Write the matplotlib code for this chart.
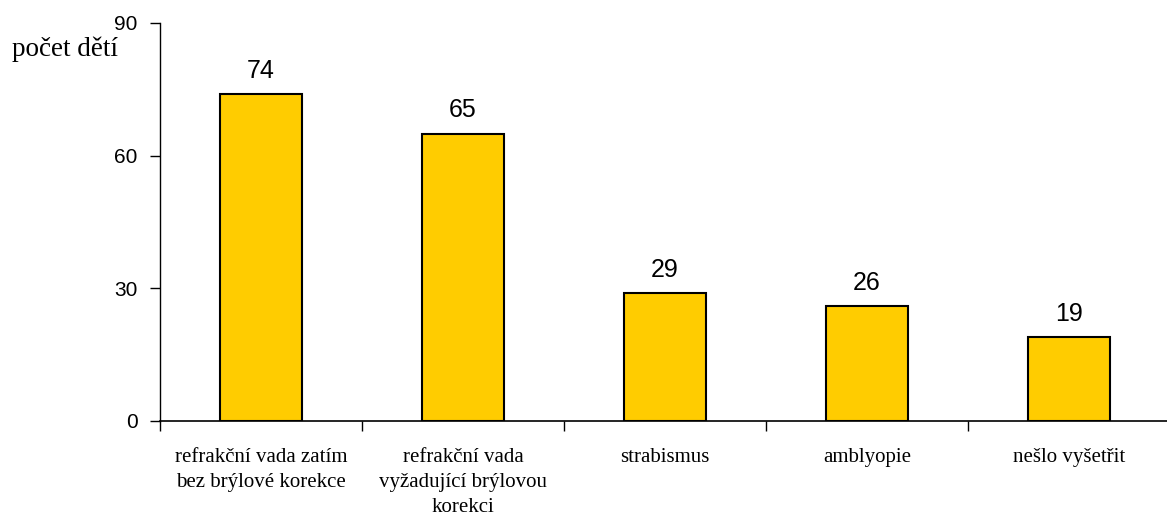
import matplotlib.pyplot as plt

categories = ["refrakční vada zatím\nbez brýlové korekce",
              "refrakční vada\nvyžadující brýlovou\nkorekci",
              "strabismus",
              "amblyopie",
              "nešlo vyšetřit"]
values = [74, 65, 29, 26, 19]
yticks = [0, 30, 60, 90]

fig = plt.figure(figsize=(11.67, 5.22), dpi=100)
# axes runs a little past the right edge, as in the original
ax = fig.add_axes([160/1167, 1 - 421/522, 1010/1167, 398/522])

x = list(range(len(values)))
ax.bar(x, values, width=0.405, color="#FFCC00", edgecolor="black", linewidth=1.5, zorder=2)

for xi, v in zip(x, values):
    ax.annotate(str(v), (xi, v), xytext=(0, 8), textcoords="offset points",
                ha="center", va="bottom", fontsize=18, family="Liberation Sans")

ax.set_xlim(-0.5, 4.5)
ax.set_ylim(0, 90)
ax.set_yticks(yticks)
ax.set_yticklabels([str(t) for t in yticks], fontsize=15, family="Liberation Sans")
ax.tick_params(axis="y", length=7, width=1, pad=9)

ax.set_xticks([i - 0.5 for i in range(len(values))])
ax.set_xticklabels([])
ax.tick_params(axis="x", length=7, width=1)
for xi, lab in zip(x, categories):
    ax.text(xi, -6.2, lab, ha="center", va="top", fontsize=15,
            family="Liberation Serif", linespacing=1.42)

for s in ["top", "right"]:
    ax.spines[s].set_visible(False)
ax.spines["left"].set_linewidth(1)
ax.spines["bottom"].set_linewidth(1.2)

fig.text(12/1167, 1 - 49/522, "počet dětí", ha="left", va="center",
         fontsize=19.5, family="Liberation Serif")

fig.savefig("out.png", dpi=100)
